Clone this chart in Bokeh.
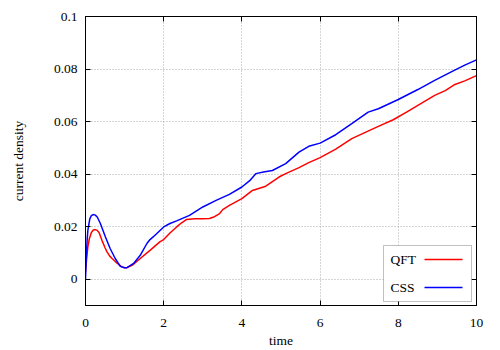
from bokeh.plotting import figure
from bokeh.models import (Range1d, FixedTicker, LinearAxis, BoxAnnotation, Label,
                          CustomLabelingPolicy)
from bokeh.embed import file_html
from bokeh.resources import INLINE

# ---- data ----
qft_t = [0, 0.03, 0.06, 0.1, 0.15, 0.2, 0.25, 0.3, 0.35, 0.42, 0.5, 0.55, 0.62, 0.68,
         0.8, 0.93, 1.0, 1.06, 1.15, 1.23, 1.4, 1.65, 1.9, 2.0, 2.16, 2.33, 2.45, 2.58,
         2.8, 3.0, 3.17, 3.3, 3.43, 3.51, 3.68, 4.0, 4.27, 4.61, 4.95, 5.12, 5.46, 5.71,
         6.0, 6.4, 6.81, 7.1, 7.49, 7.87, 8.2, 8.5, 8.93, 9.2, 9.43, 9.7, 10.0]
qft_j = [0.003, 0.008, 0.0123, 0.0155, 0.0178, 0.0187, 0.0189, 0.0186, 0.0177, 0.0148,
         0.0120, 0.0104, 0.0088, 0.0079, 0.0062, 0.0047, 0.0044, 0.0044, 0.0050, 0.0057,
         0.0079, 0.0110, 0.0142, 0.0151, 0.0176, 0.0199, 0.0214, 0.0227, 0.0230, 0.0230,
         0.0231, 0.0238, 0.0250, 0.0265, 0.0281, 0.0307, 0.0338, 0.0354, 0.0389, 0.0402,
         0.0425, 0.0444, 0.0463, 0.0495, 0.0535, 0.0555, 0.0582, 0.0607, 0.0635, 0.0662,
         0.0700, 0.0718, 0.0740, 0.0755, 0.0775]

css_t = [0, 0.02, 0.04, 0.06, 0.11, 0.15, 0.195, 0.25, 0.3, 0.38, 0.51, 0.63, 0.76, 0.89,
         1.0, 1.06, 1.23, 1.4, 1.57, 1.65, 1.73, 2.0, 2.16, 2.33, 2.66, 3.0, 3.34, 3.68,
         4.0, 4.2, 4.36, 4.55, 4.78, 5.12, 5.46, 5.71, 6.0, 6.4, 6.81, 7.23, 7.49, 8.0, 8.5,
         8.93, 9.43, 9.7, 10.0]
css_j = [0.0, 0.008, 0.0145, 0.0186, 0.0230, 0.0242, 0.0246, 0.0244, 0.0237, 0.0212,
         0.0161, 0.0117, 0.0079, 0.0049, 0.0044, 0.0044, 0.0060, 0.0091, 0.0136, 0.0151,
         0.0161, 0.0199, 0.0212, 0.0222, 0.0243, 0.0275, 0.0300, 0.0323, 0.0351, 0.0375,
         0.0402, 0.0408, 0.0414, 0.0440, 0.0484, 0.0506, 0.0518, 0.0550, 0.0592, 0.0636,
         0.0649, 0.0684, 0.0722, 0.0757, 0.0795, 0.0815, 0.0835]

series_names = ["QFT", "CSS"]
series_colors = ["#ff0000", "#0000ff"]
x_ticks = [0, 2, 4, 6, 8, 10]
y_ticks = [0, 0.02, 0.04, 0.06, 0.08, 0.1]
y_tick_labels = ["0", "0.02", "0.04", "0.06", "0.08", "0.1"]

FONT = "Liberation Serif"
ALT_FONT = "Times New Roman"
FS = "13.5px"

p = figure(width=500, height=350, output_backend="svg", toolbar_location=None,
           x_range=Range1d(0, 10), y_range=Range1d(-0.01, 0.1),
           min_border_left=85, min_border_right=21, min_border_top=16, min_border_bottom=45,
           x_axis_label="time", y_axis_label="current density")
p.background_fill_color = "white"
p.border_fill_color = "white"
p.outline_line_color = "black"
p.outline_line_width = 1

for ax, fnt in ((p.xaxis[0], ALT_FONT), (p.yaxis[0], FONT)):
    ax.major_label_text_font = fnt
    ax.major_label_text_font_size = FS
    ax.major_label_text_font_style = "normal"
    ax.major_label_text_color = "black"
    ax.axis_label_text_font = fnt
    ax.axis_label_text_font_size = FS
    ax.axis_label_text_font_style = "normal"
    ax.axis_label_text_color = "black"
    ax.major_tick_in = 5
    ax.major_tick_out = 0
    ax.minor_tick_line_color = None
    ax.axis_line_color = "black"
    ax.major_tick_line_color = "black"

p.xaxis[0].ticker = FixedTicker(ticks=x_ticks)
p.yaxis[0].ticker = FixedTicker(ticks=y_ticks)
p.yaxis[0].major_label_overrides = {t: l for t, l in zip(y_ticks, y_tick_labels)}
p.xaxis[0].major_label_standoff = 13
p.xaxis[0].axis_label_standoff = 3
p.yaxis[0].major_label_standoff = 8
p.yaxis[0].axis_label_standoff = 25

# mirror ticks (gnuplot style), no labels drawn
def hidden_labels():
    return CustomLabelingPolicy(code="""
for (const i of indices) { indices.unset(i) }
return indices
""")

top = LinearAxis(ticker=FixedTicker(ticks=x_ticks), major_label_policy=hidden_labels(),
                 major_label_standoff=0, major_tick_in=5, major_tick_out=0,
                 minor_tick_line_color=None, axis_line_color="black")
right = LinearAxis(ticker=FixedTicker(ticks=y_ticks), major_label_policy=hidden_labels(),
                   major_label_standoff=0, major_tick_in=5, major_tick_out=0,
                   minor_tick_line_color=None, axis_line_color="black")
p.add_layout(top, "above")
p.add_layout(right, "right")

p.xgrid.ticker = FixedTicker(ticks=x_ticks)
p.ygrid.ticker = FixedTicker(ticks=y_ticks)
for g in (p.xgrid[0], p.ygrid[0]):
    g.grid_line_color = "#a8a8a8"
    g.grid_line_dash = "1 2"
    g.grid_line_width = 1

p.line(qft_t, qft_j, line_color=series_colors[0], line_width=1.5)
p.line(css_t, css_j, line_color=series_colors[1], line_width=1.5)

# legend box (gnuplot style: label, then sample line)
box = BoxAnnotation(left=298, right=386, bottom=4, top=60,
                    left_units="screen", right_units="screen",
                    bottom_units="screen", top_units="screen",
                    fill_color="white", fill_alpha=1.0,
                    line_color="#333333", line_width=1, level="overlay")
p.add_layout(box)
for name, col, yy, fnt in zip(series_names, series_colors, [46, 18], [FONT, ALT_FONT]):
    p.add_layout(Label(x=305, y=yy, x_units="screen", y_units="screen", text=name,
                       text_font=fnt, text_font_size=FS, text_baseline="middle",
                       text_align="left", text_color="black", level="overlay"))
    p.add_layout(BoxAnnotation(left=339, right=377, bottom=yy - 0.75, top=yy + 0.75,
                               left_units="screen", right_units="screen",
                               bottom_units="screen", top_units="screen",
                               fill_color=col, fill_alpha=1.0, line_color=None,
                               level="overlay"))

open("out.html", "w").write(file_html(p, INLINE))
